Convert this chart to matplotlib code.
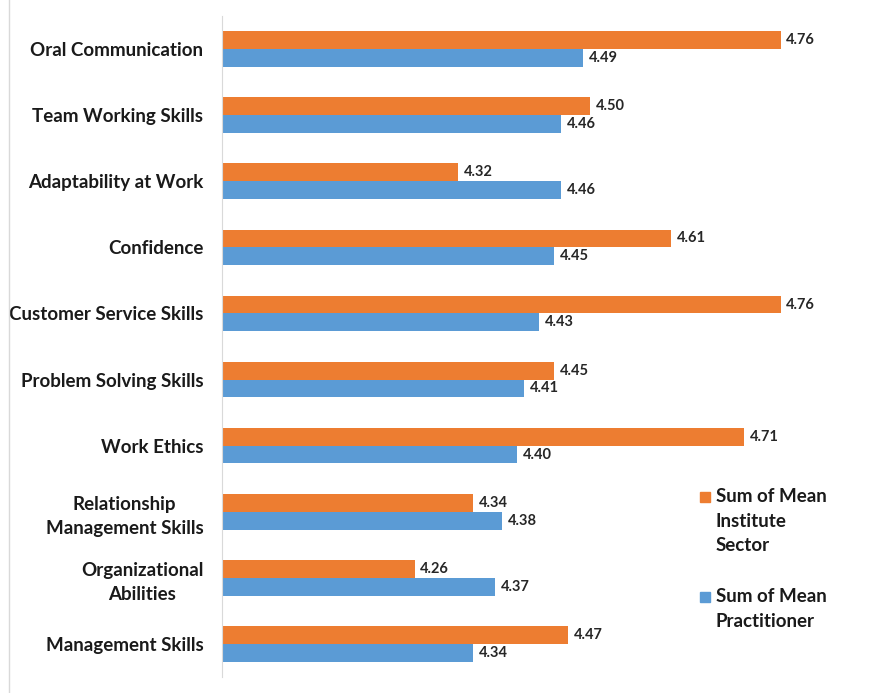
import matplotlib.pyplot as plt
from matplotlib.lines import Line2D
from matplotlib.patches import Rectangle
import numpy as np

categories = ["Oral Communication", "Team Working Skills", "Adaptability at Work",
              "Confidence", "Customer Service Skills", "Problem Solving Skills",
              "Work Ethics", "Relationship\nManagement Skills", "Organizational\nAbilities",
              "Management Skills"]
institute = [4.76, 4.50, 4.32, 4.61, 4.76, 4.45, 4.71, 4.34, 4.26, 4.47]
practitioner = [4.49, 4.46, 4.46, 4.45, 4.43, 4.41, 4.40, 4.38, 4.37, 4.34]
series = ["Sum of Mean\nInstitute\nSector", "Sum of Mean\nPractitioner"]

plt.rcParams['font.family'] = ['Lato', 'DejaVu Sans']
plt.rcParams['font.weight'] = 'bold'

fig = plt.figure(figsize=(8.87, 6.93), dpi=100)
ax = fig.add_axes([222 / 887, 16 / 693, 658 / 887, 661 / 693])

y = np.arange(len(categories))
h = 0.27
orange = "#ED7D31"
blue = "#5B9BD5"
b1 = ax.barh(y - h / 2, institute, height=h, color=orange)
b2 = ax.barh(y + h / 2, practitioner, height=h, color=blue)

ax.set_xlim(3.997, 3.997 + 658 / 732)
ax.set_ylim(len(categories) - 0.5, -0.5)
ax.set_yticks(y)
ax.set_yticklabels(categories, fontsize=13.5, fontweight='bold', color="#1a1a1a")
for lab in ax.get_yticklabels():
    lab.set_multialignment('center')
    lab.set_linespacing(1.5)
ax.tick_params(axis='y', length=0, pad=13.5)
ax.set_xticks([])
for s in ["top", "right", "bottom"]:
    ax.spines[s].set_visible(False)
ax.spines["left"].set_color("#d9d9d9")

for bars, vals in ((b1, institute), (b2, practitioner)):
    for bar, v in zip(bars, vals):
        ax.text(v + 0.008, bar.get_y() + bar.get_height() / 2, f"{v:.2f}",
                va='center', ha='left', fontsize=10.5, fontweight='bold', color="#262626")

# legend drawn by hand so the marker sits on the first line
for (col, lab, ytop) in ((orange, series[0], 492), (blue, series[1], 592)):
    fig.patches.append(Rectangle((700 / 887, 1 - (ytop + 10) / 693), 10 / 887, 10 / 693,
                                 transform=fig.transFigure, color=col))
    fig.text(716 / 887, 1 - (ytop - 4) / 693, lab, ha='left', va='top',
             fontsize=13.5, fontweight='bold', color="#1a1a1a", linespacing=1.55)

fig.add_artist(Line2D([9 / 887, 9 / 887], [0, 1], color="#d9d9d9", lw=1))

fig.savefig("out.png", dpi=100)
